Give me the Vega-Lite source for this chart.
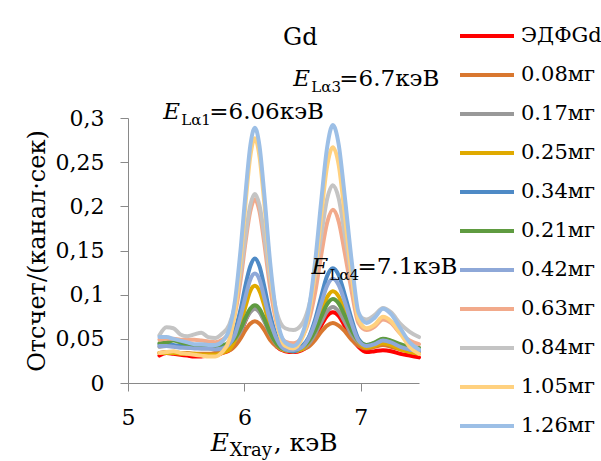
{
  "$schema": "https://vega.github.io/schema/vega-lite/v6.json",
  "autosize": {"type": "none"},
  "width": 291,
  "height": 265,
  "padding": {"left": 128, "top": 118, "right": 182, "bottom": 78},
  "background": "white",
  "config": {
    "view": {"stroke": null},
    "font": "'DejaVu Serif', 'Liberation Serif', serif",
    "axis": {
      "labelFont": "'DejaVu Serif', 'Liberation Serif', serif",
      "labelFontSize": 22,
      "labelColor": "black",
      "labelFlush": false,
      "labelOverlap": false,
      "titleFont": "'DejaVu Serif', 'Liberation Serif', serif",
      "titleFontSize": 24,
      "titleFontWeight": "normal",
      "titleColor": "black",
      "domainColor": "#898989",
      "tickColor": "#898989",
      "tickSize": 8,
      "labelPadding": 16,
      "grid": false
    }
  },
  "datasets": {
    "spectra": [
{"s":"ЭДФGd","x":5.27,"y":0.031},{"s":"ЭДФGd","x":5.33,"y":0.034},{"s":"ЭДФGd","x":5.39,"y":0.033},{"s":"ЭДФGd","x":5.45,"y":0.032},{"s":"ЭДФGd","x":5.51,"y":0.031},{"s":"ЭДФGd","x":5.57,"y":0.030},{"s":"ЭДФGd","x":5.63,"y":0.030},{"s":"ЭДФGd","x":5.69,"y":0.031},{"s":"ЭДФGd","x":5.75,"y":0.031},{"s":"ЭДФGd","x":5.81,"y":0.034},
{"s":"ЭДФGd","x":5.87,"y":0.037},{"s":"ЭДФGd","x":5.92,"y":0.044},{"s":"ЭДФGd","x":5.97,"y":0.057},{"s":"ЭДФGd","x":6.01,"y":0.071},{"s":"ЭДФGd","x":6.05,"y":0.082},{"s":"ЭДФGd","x":6.09,"y":0.087},{"s":"ЭДФGd","x":6.13,"y":0.082},{"s":"ЭДФGd","x":6.17,"y":0.072},{"s":"ЭДФGd","x":6.22,"y":0.055},{"s":"ЭДФGd","x":6.28,"y":0.041},
{"s":"ЭДФGd","x":6.35,"y":0.036},{"s":"ЭДФGd","x":6.42,"y":0.035},{"s":"ЭДФGd","x":6.49,"y":0.037},{"s":"ЭДФGd","x":6.55,"y":0.042},{"s":"ЭДФGd","x":6.61,"y":0.053},{"s":"ЭДФGd","x":6.66,"y":0.065},{"s":"ЭДФGd","x":6.71,"y":0.076},{"s":"ЭДФGd","x":6.76,"y":0.080},{"s":"ЭДФGd","x":6.81,"y":0.076},{"s":"ЭДФGd","x":6.86,"y":0.065},
{"s":"ЭДФGd","x":6.92,"y":0.051},{"s":"ЭДФGd","x":6.98,"y":0.041},{"s":"ЭДФGd","x":7.05,"y":0.035},{"s":"ЭДФGd","x":7.12,"y":0.036},{"s":"ЭДФGd","x":7.19,"y":0.037},{"s":"ЭДФGd","x":7.26,"y":0.036},{"s":"ЭДФGd","x":7.34,"y":0.033},{"s":"ЭДФGd","x":7.42,"y":0.031},{"s":"ЭДФGd","x":7.5,"y":0.029},

{"s":"0.08мг","x":5.27,"y":0.034},{"s":"0.08мг","x":5.33,"y":0.035},{"s":"0.08мг","x":5.39,"y":0.035},{"s":"0.08мг","x":5.45,"y":0.034},{"s":"0.08мг","x":5.51,"y":0.034},{"s":"0.08мг","x":5.57,"y":0.033},{"s":"0.08мг","x":5.63,"y":0.033},{"s":"0.08мг","x":5.69,"y":0.033},{"s":"0.08мг","x":5.75,"y":0.034},{"s":"0.08мг","x":5.81,"y":0.036},
{"s":"0.08мг","x":5.87,"y":0.037},{"s":"0.08мг","x":5.92,"y":0.042},{"s":"0.08мг","x":5.97,"y":0.051},{"s":"0.08мг","x":6.01,"y":0.060},{"s":"0.08мг","x":6.05,"y":0.067},{"s":"0.08мг","x":6.09,"y":0.070},{"s":"0.08мг","x":6.13,"y":0.067},{"s":"0.08мг","x":6.17,"y":0.060},{"s":"0.08мг","x":6.22,"y":0.049},{"s":"0.08мг","x":6.28,"y":0.041},
{"s":"0.08мг","x":6.35,"y":0.037},{"s":"0.08мг","x":6.42,"y":0.036},{"s":"0.08мг","x":6.49,"y":0.038},{"s":"0.08мг","x":6.55,"y":0.041},{"s":"0.08мг","x":6.61,"y":0.049},{"s":"0.08мг","x":6.66,"y":0.058},{"s":"0.08мг","x":6.71,"y":0.065},{"s":"0.08мг","x":6.76,"y":0.068},{"s":"0.08мг","x":6.81,"y":0.065},{"s":"0.08мг","x":6.86,"y":0.059},
{"s":"0.08мг","x":6.92,"y":0.049},{"s":"0.08мг","x":6.98,"y":0.042},{"s":"0.08мг","x":7.05,"y":0.039},{"s":"0.08мг","x":7.12,"y":0.041},{"s":"0.08мг","x":7.19,"y":0.043},{"s":"0.08мг","x":7.26,"y":0.041},{"s":"0.08мг","x":7.34,"y":0.038},{"s":"0.08мг","x":7.42,"y":0.036},{"s":"0.08мг","x":7.5,"y":0.035},

{"s":"0.17мг","x":5.27,"y":0.041},{"s":"0.17мг","x":5.33,"y":0.042},{"s":"0.17мг","x":5.39,"y":0.042},{"s":"0.17мг","x":5.45,"y":0.041},{"s":"0.17мг","x":5.51,"y":0.040},{"s":"0.17мг","x":5.57,"y":0.040},{"s":"0.17мг","x":5.63,"y":0.039},{"s":"0.17мг","x":5.69,"y":0.039},{"s":"0.17мг","x":5.75,"y":0.039},{"s":"0.17мг","x":5.81,"y":0.040},
{"s":"0.17мг","x":5.87,"y":0.042},{"s":"0.17мг","x":5.92,"y":0.048},{"s":"0.17мг","x":5.97,"y":0.059},{"s":"0.17мг","x":6.01,"y":0.071},{"s":"0.17мг","x":6.05,"y":0.080},{"s":"0.17мг","x":6.09,"y":0.084},{"s":"0.17мг","x":6.13,"y":0.080},{"s":"0.17мг","x":6.17,"y":0.070},{"s":"0.17мг","x":6.22,"y":0.056},{"s":"0.17мг","x":6.28,"y":0.043},
{"s":"0.17мг","x":6.35,"y":0.037},{"s":"0.17мг","x":6.42,"y":0.036},{"s":"0.17мг","x":6.49,"y":0.038},{"s":"0.17мг","x":6.55,"y":0.044},{"s":"0.17мг","x":6.61,"y":0.056},{"s":"0.17мг","x":6.66,"y":0.069},{"s":"0.17мг","x":6.71,"y":0.081},{"s":"0.17мг","x":6.76,"y":0.086},{"s":"0.17мг","x":6.81,"y":0.081},{"s":"0.17мг","x":6.86,"y":0.070},
{"s":"0.17мг","x":6.92,"y":0.055},{"s":"0.17мг","x":6.98,"y":0.046},{"s":"0.17мг","x":7.05,"y":0.041},{"s":"0.17мг","x":7.12,"y":0.043},{"s":"0.17мг","x":7.19,"y":0.046},{"s":"0.17мг","x":7.26,"y":0.044},{"s":"0.17мг","x":7.34,"y":0.040},{"s":"0.17мг","x":7.42,"y":0.037},{"s":"0.17мг","x":7.5,"y":0.036},

{"s":"0.25мг","x":5.27,"y":0.034},{"s":"0.25мг","x":5.33,"y":0.034},{"s":"0.25мг","x":5.39,"y":0.034},{"s":"0.25мг","x":5.45,"y":0.033},{"s":"0.25мг","x":5.51,"y":0.033},{"s":"0.25мг","x":5.57,"y":0.033},{"s":"0.25мг","x":5.63,"y":0.032},{"s":"0.25мг","x":5.69,"y":0.032},{"s":"0.25мг","x":5.75,"y":0.032},{"s":"0.25мг","x":5.81,"y":0.034},
{"s":"0.25мг","x":5.87,"y":0.038},{"s":"0.25мг","x":5.92,"y":0.049},{"s":"0.25мг","x":5.97,"y":0.068},{"s":"0.25мг","x":6.01,"y":0.087},{"s":"0.25мг","x":6.05,"y":0.104},{"s":"0.25мг","x":6.09,"y":0.110},{"s":"0.25мг","x":6.13,"y":0.104},{"s":"0.25мг","x":6.17,"y":0.088},{"s":"0.25мг","x":6.22,"y":0.064},{"s":"0.25мг","x":6.28,"y":0.044},
{"s":"0.25мг","x":6.35,"y":0.037},{"s":"0.25мг","x":6.42,"y":0.036},{"s":"0.25мг","x":6.49,"y":0.038},{"s":"0.25мг","x":6.55,"y":0.047},{"s":"0.25мг","x":6.61,"y":0.063},{"s":"0.25мг","x":6.66,"y":0.080},{"s":"0.25мг","x":6.71,"y":0.097},{"s":"0.25мг","x":6.76,"y":0.104},{"s":"0.25мг","x":6.81,"y":0.098},{"s":"0.25мг","x":6.86,"y":0.082},
{"s":"0.25мг","x":6.92,"y":0.062},{"s":"0.25мг","x":6.98,"y":0.047},{"s":"0.25мг","x":7.05,"y":0.040},{"s":"0.25мг","x":7.12,"y":0.042},{"s":"0.25мг","x":7.19,"y":0.045},{"s":"0.25мг","x":7.26,"y":0.043},{"s":"0.25мг","x":7.34,"y":0.038},{"s":"0.25мг","x":7.42,"y":0.035},{"s":"0.25мг","x":7.5,"y":0.033},

{"s":"0.34мг","x":5.27,"y":0.044},{"s":"0.34мг","x":5.33,"y":0.044},{"s":"0.34мг","x":5.39,"y":0.043},{"s":"0.34мг","x":5.45,"y":0.042},{"s":"0.34мг","x":5.51,"y":0.042},{"s":"0.34мг","x":5.57,"y":0.041},{"s":"0.34мг","x":5.63,"y":0.041},{"s":"0.34мг","x":5.69,"y":0.040},{"s":"0.34мг","x":5.75,"y":0.040},{"s":"0.34мг","x":5.81,"y":0.041},
{"s":"0.34мг","x":5.87,"y":0.047},{"s":"0.34мг","x":5.92,"y":0.060},{"s":"0.34мг","x":5.97,"y":0.085},{"s":"0.34мг","x":6.01,"y":0.111},{"s":"0.34мг","x":6.05,"y":0.132},{"s":"0.34мг","x":6.09,"y":0.141},{"s":"0.34мг","x":6.13,"y":0.132},{"s":"0.34мг","x":6.17,"y":0.110},{"s":"0.34мг","x":6.22,"y":0.078},{"s":"0.34мг","x":6.28,"y":0.051},
{"s":"0.34мг","x":6.35,"y":0.038},{"s":"0.34мг","x":6.42,"y":0.036},{"s":"0.34мг","x":6.49,"y":0.041},{"s":"0.34мг","x":6.55,"y":0.051},{"s":"0.34мг","x":6.61,"y":0.073},{"s":"0.34мг","x":6.66,"y":0.098},{"s":"0.34мг","x":6.71,"y":0.121},{"s":"0.34мг","x":6.76,"y":0.130},{"s":"0.34мг","x":6.81,"y":0.122},{"s":"0.34мг","x":6.86,"y":0.101},
{"s":"0.34мг","x":6.92,"y":0.073},{"s":"0.34мг","x":6.98,"y":0.050},{"s":"0.34мг","x":7.05,"y":0.043},{"s":"0.34мг","x":7.12,"y":0.045},{"s":"0.34мг","x":7.19,"y":0.049},{"s":"0.34мг","x":7.26,"y":0.047},{"s":"0.34мг","x":7.34,"y":0.042},{"s":"0.34мг","x":7.42,"y":0.038},{"s":"0.34мг","x":7.5,"y":0.037},

{"s":"0.21мг","x":5.27,"y":0.045},{"s":"0.21мг","x":5.33,"y":0.046},{"s":"0.21мг","x":5.39,"y":0.048},{"s":"0.21мг","x":5.45,"y":0.046},{"s":"0.21мг","x":5.51,"y":0.044},{"s":"0.21мг","x":5.57,"y":0.043},{"s":"0.21мг","x":5.63,"y":0.042},{"s":"0.21мг","x":5.69,"y":0.042},{"s":"0.21мг","x":5.75,"y":0.042},{"s":"0.21мг","x":5.81,"y":0.043},
{"s":"0.21мг","x":5.87,"y":0.045},{"s":"0.21мг","x":5.92,"y":0.051},{"s":"0.21мг","x":5.97,"y":0.062},{"s":"0.21мг","x":6.01,"y":0.074},{"s":"0.21мг","x":6.05,"y":0.084},{"s":"0.21мг","x":6.09,"y":0.088},{"s":"0.21мг","x":6.13,"y":0.084},{"s":"0.21мг","x":6.17,"y":0.073},{"s":"0.21мг","x":6.22,"y":0.057},{"s":"0.21мг","x":6.28,"y":0.044},
{"s":"0.21мг","x":6.35,"y":0.038},{"s":"0.21мг","x":6.42,"y":0.037},{"s":"0.21мг","x":6.49,"y":0.040},{"s":"0.21мг","x":6.55,"y":0.047},{"s":"0.21мг","x":6.61,"y":0.060},{"s":"0.21мг","x":6.66,"y":0.075},{"s":"0.21мг","x":6.71,"y":0.089},{"s":"0.21мг","x":6.76,"y":0.095},{"s":"0.21мг","x":6.81,"y":0.090},{"s":"0.21мг","x":6.86,"y":0.077},
{"s":"0.21мг","x":6.92,"y":0.060},{"s":"0.21мг","x":6.98,"y":0.048},{"s":"0.21мг","x":7.05,"y":0.043},{"s":"0.21мг","x":7.12,"y":0.046},{"s":"0.21мг","x":7.19,"y":0.050},{"s":"0.21мг","x":7.26,"y":0.048},{"s":"0.21мг","x":7.34,"y":0.044},{"s":"0.21мг","x":7.42,"y":0.041},{"s":"0.21мг","x":7.5,"y":0.040},

{"s":"0.42мг","x":5.27,"y":0.042},{"s":"0.42мг","x":5.33,"y":0.042},{"s":"0.42мг","x":5.39,"y":0.041},{"s":"0.42мг","x":5.45,"y":0.040},{"s":"0.42мг","x":5.51,"y":0.040},{"s":"0.42мг","x":5.57,"y":0.039},{"s":"0.42мг","x":5.63,"y":0.039},{"s":"0.42мг","x":5.69,"y":0.039},{"s":"0.42мг","x":5.75,"y":0.038},{"s":"0.42мг","x":5.81,"y":0.039},
{"s":"0.42мг","x":5.87,"y":0.044},{"s":"0.42мг","x":5.92,"y":0.055},{"s":"0.42мг","x":5.97,"y":0.077},{"s":"0.42мг","x":6.01,"y":0.098},{"s":"0.42мг","x":6.05,"y":0.117},{"s":"0.42мг","x":6.09,"y":0.124},{"s":"0.42мг","x":6.13,"y":0.117},{"s":"0.42мг","x":6.17,"y":0.097},{"s":"0.42мг","x":6.22,"y":0.071},{"s":"0.42мг","x":6.28,"y":0.049},
{"s":"0.42мг","x":6.35,"y":0.038},{"s":"0.42мг","x":6.42,"y":0.037},{"s":"0.42мг","x":6.49,"y":0.040},{"s":"0.42мг","x":6.55,"y":0.050},{"s":"0.42мг","x":6.61,"y":0.069},{"s":"0.42мг","x":6.66,"y":0.090},{"s":"0.42мг","x":6.71,"y":0.110},{"s":"0.42мг","x":6.76,"y":0.118},{"s":"0.42мг","x":6.81,"y":0.111},{"s":"0.42мг","x":6.86,"y":0.093},
{"s":"0.42мг","x":6.92,"y":0.068},{"s":"0.42мг","x":6.98,"y":0.048},{"s":"0.42мг","x":7.05,"y":0.042},{"s":"0.42мг","x":7.12,"y":0.044},{"s":"0.42мг","x":7.19,"y":0.048},{"s":"0.42мг","x":7.26,"y":0.046},{"s":"0.42мг","x":7.34,"y":0.041},{"s":"0.42мг","x":7.42,"y":0.038},{"s":"0.42мг","x":7.5,"y":0.036},

{"s":"0.63мг","x":5.27,"y":0.049},{"s":"0.63мг","x":5.33,"y":0.050},{"s":"0.63мг","x":5.39,"y":0.050},{"s":"0.63мг","x":5.45,"y":0.049},{"s":"0.63мг","x":5.51,"y":0.049},{"s":"0.63мг","x":5.57,"y":0.049},{"s":"0.63мг","x":5.63,"y":0.048},{"s":"0.63мг","x":5.69,"y":0.047},{"s":"0.63мг","x":5.75,"y":0.046},{"s":"0.63мг","x":5.81,"y":0.049},
{"s":"0.63мг","x":5.87,"y":0.057},{"s":"0.63мг","x":5.92,"y":0.079},{"s":"0.63мг","x":5.97,"y":0.119},{"s":"0.63мг","x":6.01,"y":0.160},{"s":"0.63мг","x":6.05,"y":0.194},{"s":"0.63мг","x":6.09,"y":0.208},{"s":"0.63мг","x":6.13,"y":0.194},{"s":"0.63мг","x":6.17,"y":0.159},{"s":"0.63мг","x":6.22,"y":0.109},{"s":"0.63мг","x":6.28,"y":0.066},
{"s":"0.63мг","x":6.35,"y":0.047},{"s":"0.63мг","x":6.42,"y":0.045},{"s":"0.63мг","x":6.49,"y":0.051},{"s":"0.63мг","x":6.55,"y":0.069},{"s":"0.63мг","x":6.61,"y":0.104},{"s":"0.63мг","x":6.66,"y":0.145},{"s":"0.63мг","x":6.71,"y":0.181},{"s":"0.63мг","x":6.76,"y":0.196},{"s":"0.63мг","x":6.81,"y":0.183},{"s":"0.63мг","x":6.86,"y":0.149},
{"s":"0.63мг","x":6.92,"y":0.105},{"s":"0.63мг","x":6.98,"y":0.068},{"s":"0.63мг","x":7.05,"y":0.060},{"s":"0.63мг","x":7.12,"y":0.064},{"s":"0.63мг","x":7.19,"y":0.072},{"s":"0.63мг","x":7.26,"y":0.068},{"s":"0.63мг","x":7.34,"y":0.056},{"s":"0.63мг","x":7.42,"y":0.048},{"s":"0.63мг","x":7.5,"y":0.044},

{"s":"0.84мг","x":5.27,"y":0.054},{"s":"0.84мг","x":5.33,"y":0.063},{"s":"0.84мг","x":5.39,"y":0.062},{"s":"0.84мг","x":5.45,"y":0.055},{"s":"0.84мг","x":5.51,"y":0.053},{"s":"0.84мг","x":5.57,"y":0.055},{"s":"0.84мг","x":5.63,"y":0.057},{"s":"0.84мг","x":5.69,"y":0.052},{"s":"0.84мг","x":5.75,"y":0.051},{"s":"0.84мг","x":5.81,"y":0.056},
{"s":"0.84мг","x":5.87,"y":0.066},{"s":"0.84мг","x":5.92,"y":0.088},{"s":"0.84мг","x":5.97,"y":0.128},{"s":"0.84мг","x":6.01,"y":0.167},{"s":"0.84мг","x":6.05,"y":0.201},{"s":"0.84мг","x":6.09,"y":0.214},{"s":"0.84мг","x":6.13,"y":0.201},{"s":"0.84мг","x":6.17,"y":0.168},{"s":"0.84мг","x":6.22,"y":0.120},{"s":"0.84мг","x":6.28,"y":0.079},
{"s":"0.84мг","x":6.35,"y":0.062},{"s":"0.84мг","x":6.42,"y":0.060},{"s":"0.84мг","x":6.49,"y":0.066},{"s":"0.84мг","x":6.55,"y":0.085},{"s":"0.84мг","x":6.61,"y":0.124},{"s":"0.84мг","x":6.66,"y":0.167},{"s":"0.84мг","x":6.71,"y":0.208},{"s":"0.84мг","x":6.76,"y":0.224},{"s":"0.84мг","x":6.81,"y":0.209},{"s":"0.84мг","x":6.86,"y":0.170},
{"s":"0.84мг","x":6.92,"y":0.121},{"s":"0.84мг","x":6.98,"y":0.078},{"s":"0.84мг","x":7.05,"y":0.072},{"s":"0.84мг","x":7.12,"y":0.077},{"s":"0.84мг","x":7.19,"y":0.085},{"s":"0.84мг","x":7.26,"y":0.080},{"s":"0.84мг","x":7.34,"y":0.067},{"s":"0.84мг","x":7.42,"y":0.058},{"s":"0.84мг","x":7.5,"y":0.052},

{"s":"1.05мг","x":5.27,"y":0.034},{"s":"1.05мг","x":5.33,"y":0.035},{"s":"1.05мг","x":5.39,"y":0.036},{"s":"1.05мг","x":5.45,"y":0.034},{"s":"1.05мг","x":5.51,"y":0.033},{"s":"1.05мг","x":5.57,"y":0.032},{"s":"1.05мг","x":5.63,"y":0.031},{"s":"1.05мг","x":5.69,"y":0.030},{"s":"1.05мг","x":5.75,"y":0.030},{"s":"1.05мг","x":5.81,"y":0.035},
{"s":"1.05мг","x":5.87,"y":0.049},{"s":"1.05мг","x":5.92,"y":0.081},{"s":"1.05мг","x":5.97,"y":0.143},{"s":"1.05мг","x":6.01,"y":0.204},{"s":"1.05мг","x":6.05,"y":0.256},{"s":"1.05мг","x":6.09,"y":0.277},{"s":"1.05мг","x":6.13,"y":0.256},{"s":"1.05мг","x":6.17,"y":0.205},{"s":"1.05мг","x":6.22,"y":0.131},{"s":"1.05мг","x":6.28,"y":0.069},
{"s":"1.05мг","x":6.35,"y":0.042},{"s":"1.05мг","x":6.42,"y":0.039},{"s":"1.05мг","x":6.49,"y":0.049},{"s":"1.05мг","x":6.55,"y":0.075},{"s":"1.05мг","x":6.61,"y":0.129},{"s":"1.05мг","x":6.66,"y":0.190},{"s":"1.05мг","x":6.71,"y":0.245},{"s":"1.05мг","x":6.76,"y":0.267},{"s":"1.05мг","x":6.81,"y":0.247},{"s":"1.05мг","x":6.86,"y":0.193},
{"s":"1.05мг","x":6.92,"y":0.124},{"s":"1.05мг","x":6.98,"y":0.072},{"s":"1.05мг","x":7.05,"y":0.062},{"s":"1.05мг","x":7.12,"y":0.066},{"s":"1.05мг","x":7.19,"y":0.075},{"s":"1.05мг","x":7.26,"y":0.070},{"s":"1.05мг","x":7.34,"y":0.056},{"s":"1.05мг","x":7.42,"y":0.041},{"s":"1.05мг","x":7.5,"y":0.033},

{"s":"1.26мг","x":5.27,"y":0.052},{"s":"1.26мг","x":5.33,"y":0.052},{"s":"1.26мг","x":5.39,"y":0.050},{"s":"1.26мг","x":5.45,"y":0.048},{"s":"1.26мг","x":5.51,"y":0.046},{"s":"1.26мг","x":5.57,"y":0.044},{"s":"1.26мг","x":5.63,"y":0.044},{"s":"1.26мг","x":5.69,"y":0.043},{"s":"1.26мг","x":5.75,"y":0.043},{"s":"1.26мг","x":5.81,"y":0.047},
{"s":"1.26мг","x":5.87,"y":0.061},{"s":"1.26мг","x":5.92,"y":0.094},{"s":"1.26мг","x":5.97,"y":0.155},{"s":"1.26мг","x":6.01,"y":0.215},{"s":"1.26мг","x":6.05,"y":0.268},{"s":"1.26мг","x":6.09,"y":0.289},{"s":"1.26мг","x":6.13,"y":0.268},{"s":"1.26мг","x":6.17,"y":0.215},{"s":"1.26мг","x":6.22,"y":0.138},{"s":"1.26мг","x":6.28,"y":0.074},
{"s":"1.26мг","x":6.35,"y":0.046},{"s":"1.26мг","x":6.42,"y":0.042},{"s":"1.26мг","x":6.49,"y":0.053},{"s":"1.26мг","x":6.55,"y":0.081},{"s":"1.26мг","x":6.61,"y":0.140},{"s":"1.26мг","x":6.66,"y":0.206},{"s":"1.26мг","x":6.71,"y":0.266},{"s":"1.26мг","x":6.76,"y":0.292},{"s":"1.26мг","x":6.81,"y":0.270},{"s":"1.26мг","x":6.86,"y":0.214},
{"s":"1.26мг","x":6.92,"y":0.140},{"s":"1.26мг","x":6.98,"y":0.080},{"s":"1.26мг","x":7.05,"y":0.068},{"s":"1.26мг","x":7.12,"y":0.074},{"s":"1.26мг","x":7.19,"y":0.084},{"s":"1.26мг","x":7.26,"y":0.078},{"s":"1.26мг","x":7.34,"y":0.062},{"s":"1.26мг","x":7.42,"y":0.046},{"s":"1.26мг","x":7.5,"y":0.038}
    ],
    "lines": [
      {"sub": "Lα1", "rest": "=6.06кэВ", "x": 5.303, "y": 0.2989},
      {"sub": "Lα3", "rest": "=6.7кэВ", "x": 6.42, "y": 0.3362},
      {"sub": "Lα4", "rest": "=7.1кэВ", "x": 6.576, "y": 0.1234}
    ],
    "xtitle": [
      {"sub": "Xray", "rest": ", кэВ", "x": 5.71, "y": -0.0770}
    ],
    "title": [
      {"text": "Gd", "x": 6.48, "y": 0.3827}
    ]
  },
  "layer": [
    {
      "data": {"name": "spectra"},
      "mark": {"type": "line", "interpolate": "monotone", "strokeWidth": 4, "strokeCap": "round", "strokeJoin": "round"},
      "encoding": {
        "x": {"field": "x", "type": "quantitative",
              "scale": {"domain": [5, 7.5], "nice": false, "zero": false},
              "axis": {"values": [5, 6, 7], "format": "~g", "title": null}},
        "y": {"field": "y", "type": "quantitative",
              "scale": {"domain": [0, 0.3], "nice": false},
              "axis": {"values": [0, 0.05, 0.1, 0.15, 0.2, 0.25, 0.3],
                       "labelExpr": "replace(format(datum.value, '~g'), '.', ',')",
                       "title": "Отсчет/(канал·сек)", "titlePadding": 6}},
        "color": {"field": "s", "type": "nominal",
                  "scale": {"domain": ["ЭДФGd","0.08мг","0.17мг","0.25мг","0.34мг","0.21мг","0.42мг","0.63мг","0.84мг","1.05мг","1.26мг"],
                            "range": ["#FF0000","#D9772F","#999999","#E0AA00","#4E8AC6","#5F9B40","#8EA8D8","#F2AA8B","#C4C4C4","#FFD17F","#9CBFE6"]},
                  "legend": {"orient": "none", "legendX": 330, "legendY": -101.5, "title": null,
                             "direction": "vertical",
                             "symbolType": "stroke", "symbolSize": 2916, "symbolStrokeWidth": 4,
                             "clipHeight": 39, "rowPadding": 0, "padding": 0,
                             "labelFont": "'DejaVu Serif', 'Liberation Serif', serif", "labelFontSize": 21, "labelColor": "black",
                             "labelOffset": 5, "labelLimit": 0}}
      }
    },
    {
      "data": {"name": "lines"},
      "mark": {"type": "text", "align": "left", "baseline": "alphabetic", "fontSize": 23, "fontStyle": "italic", "color": "black"},
      "encoding": {"x": {"field": "x", "type": "quantitative"}, "y": {"field": "y", "type": "quantitative"}, "text": {"value": "E"}}
    },
    {
      "data": {"name": "lines"},
      "mark": {"type": "text", "align": "left", "baseline": "alphabetic", "fontSize": 15, "dx": 18, "dy": 6, "color": "black"},
      "encoding": {"x": {"field": "x", "type": "quantitative"}, "y": {"field": "y", "type": "quantitative"}, "text": {"field": "sub"}}
    },
    {
      "data": {"name": "lines"},
      "mark": {"type": "text", "align": "left", "baseline": "alphabetic", "fontSize": 23, "dx": 46, "color": "black"},
      "encoding": {"x": {"field": "x", "type": "quantitative"}, "y": {"field": "y", "type": "quantitative"}, "text": {"field": "rest"}}
    },
    {
      "data": {"name": "xtitle"},
      "mark": {"type": "text", "align": "left", "baseline": "alphabetic", "fontSize": 25, "fontStyle": "italic", "color": "black"},
      "encoding": {"x": {"field": "x", "type": "quantitative"}, "y": {"field": "y", "type": "quantitative"}, "text": {"value": "E"}}
    },
    {
      "data": {"name": "xtitle"},
      "mark": {"type": "text", "align": "left", "baseline": "alphabetic", "fontSize": 18, "dx": 19, "dy": 5, "color": "black"},
      "encoding": {"x": {"field": "x", "type": "quantitative"}, "y": {"field": "y", "type": "quantitative"}, "text": {"field": "sub"}}
    },
    {
      "data": {"name": "xtitle"},
      "mark": {"type": "text", "align": "left", "baseline": "alphabetic", "fontSize": 25, "dx": 63, "color": "black"},
      "encoding": {"x": {"field": "x", "type": "quantitative"}, "y": {"field": "y", "type": "quantitative"}, "text": {"field": "rest"}}
    },
    {
      "data": {"name": "title"},
      "mark": {"type": "text", "align": "center", "baseline": "alphabetic", "fontSize": 24, "color": "black"},
      "encoding": {"x": {"field": "x", "type": "quantitative"}, "y": {"field": "y", "type": "quantitative"}, "text": {"field": "text"}}
    }
  ]
}
